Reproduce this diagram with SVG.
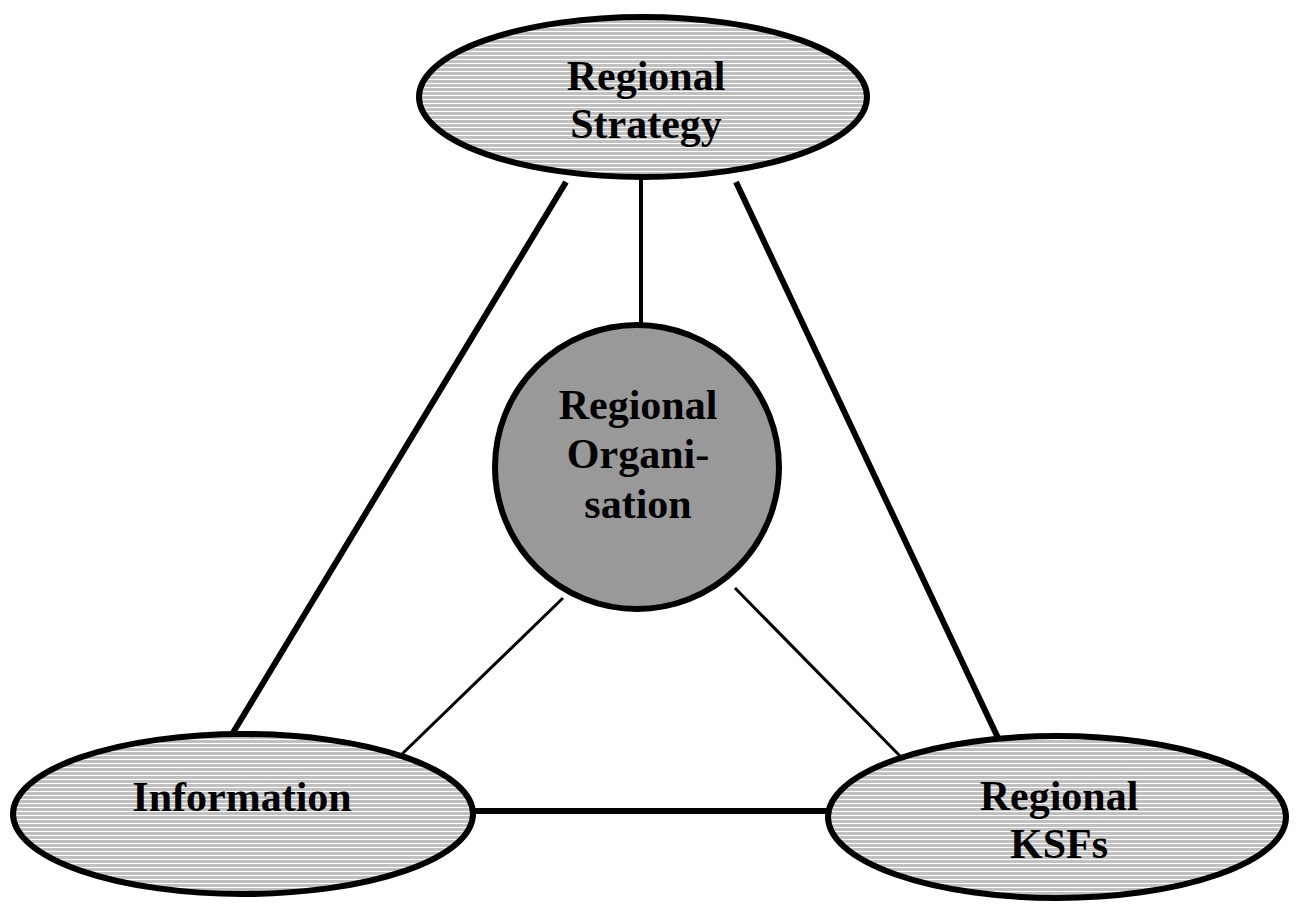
<svg xmlns="http://www.w3.org/2000/svg" width="1296" height="907" viewBox="0 0 1296 907">
  <defs>
    <pattern id="hstripe" patternUnits="userSpaceOnUse" width="8" height="4">
      <rect width="8" height="4" fill="#c0c0c0"/>
      <rect y="3" width="8" height="1" fill="#ffffff"/>
    </pattern>
  </defs>
  <style>
    .oval { fill: url(#hstripe); stroke: #000; stroke-width: 6; }
    .hub { fill: #999999; stroke: #000; stroke-width: 6; }
    .thick { stroke: #000; stroke-width: 6; fill: none; }
    .mid { stroke: #000; stroke-width: 4; fill: none; }
    .thin { stroke: #000; stroke-width: 3; fill: none; }
    text { font-family: "Liberation Serif", "Times New Roman", serif; font-weight: bold; font-size: 42px; fill: #000; text-anchor: middle; }
  </style>
  <rect width="1296" height="907" fill="#fff"/>
  <g id="connectors">
    <line class="mid" x1="641" y1="178" x2="641" y2="326"/>
    <line class="thick" x1="566" y1="182" x2="231" y2="736"/>
    <line class="thick" x1="736" y1="182" x2="999" y2="740"/>
    <line class="thick" x1="472" y1="811" x2="830" y2="811"/>
    <line class="thin" x1="563" y1="598" x2="400" y2="756"/>
    <line class="thin" x1="735" y1="588" x2="901" y2="757"/>
  </g>
  <g id="strategy">
    <ellipse class="oval" cx="643" cy="97" rx="224" ry="80"/>
    <text x="646" y="90">Regional</text>
    <text x="646" y="138">Strategy</text>
  </g>
  <g id="organisation">
    <circle class="hub" cx="637" cy="467" r="142"/>
    <text x="638" y="419">Regional</text>
    <text x="638" y="468">Organi-</text>
    <text x="638" y="518">sation</text>
  </g>
  <g id="information">
    <ellipse class="oval" cx="243" cy="814" rx="230" ry="80"/>
    <text x="242" y="811">Information</text>
  </g>
  <g id="ksfs">
    <ellipse class="oval" cx="1057" cy="817" rx="229" ry="81"/>
    <text x="1059" y="810">Regional</text>
    <text x="1059" y="858">KSFs</text>
  </g>
</svg>
